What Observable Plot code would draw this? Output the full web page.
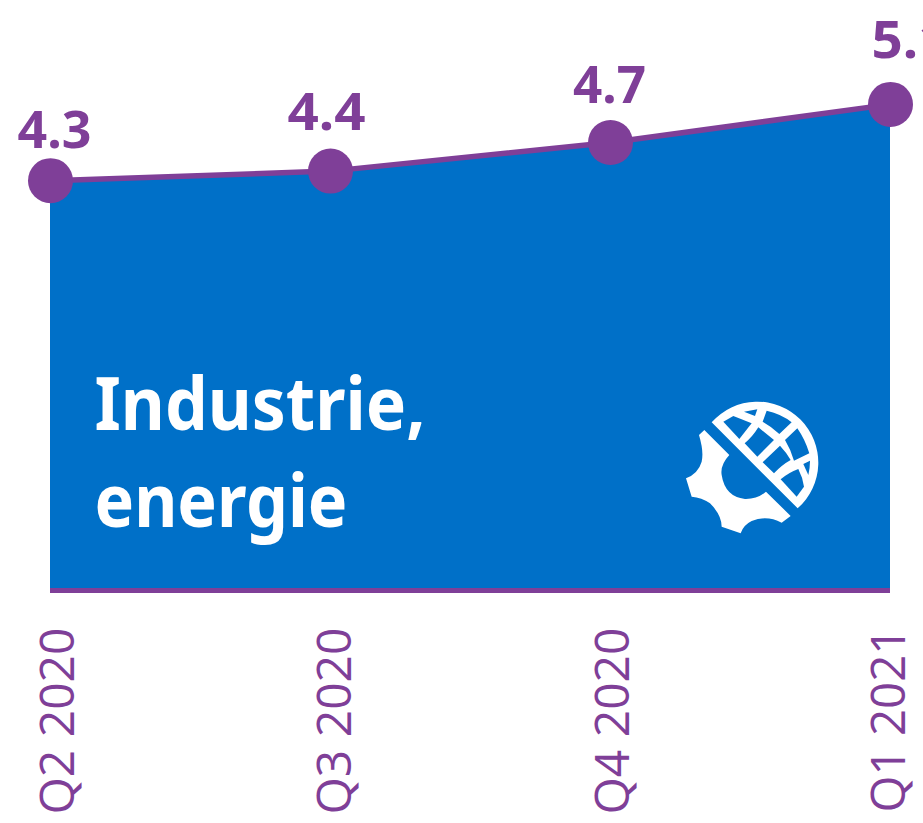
<!DOCTYPE html>
<html><head><meta charset="utf-8">
<style>html,body{margin:0;padding:0;background:#fff;overflow:hidden}svg{display:block}</style>
<script src="https://cdn.jsdelivr.net/npm/d3@7"></script>
<script src="https://cdn.jsdelivr.net/npm/@observablehq/plot@0.6"></script>
</head><body><div id="chart"></div>
<script>
const quarters = ["Q2 2020","Q3 2020","Q4 2020","Q1 2021"];
const values = [4.3,4.4,4.7,5.1];
const titleLines = ["Industrie,","energie"];
const rows = quarters.map((q,i)=>({q,v:values[i]}));
const purple="#7f3f98", blue="#0070c8";
const bold='"Noto Sans",sans-serif';
const nudge=[[4,-33],[-4,-41],[-1,-40],[20,-46]];
const tickNudge=[8,5,3,-1];
const squeeze={"Industrie,":331,"energie":253,"4.3":74,"4.4":78,"4.7":73,"5.1":78,"Q2 2020":187,"Q3 2020":187,"Q4 2020":187,"Q1 2021":185};
const iconCells=["M160 95L190 78L245 100L208 147Z","M222 65L262 58L255 78Z","M290 62Q335 72 365 97L328 132Q305 110 278 95Z","M265 112L312 150L262 200L224 160Q248 140 265 112Z","M382 115Q405 148 418 190L372 212Q362 178 345 150Z","M330 167Q350 188 362 210Q335 225 312 250L278 217Z","M385 237Q398 262 402 290L380 320L332 268Q355 248 385 237Z","M400 222L420 212Q420 235 415 255Z"];
const gear="M103 120L178 195Q150 225 155 255Q165 320 225 327Q262 328 288 305L362 378L335 398Q290 375 245 393Q220 405 212 430L155 410Q155 375 120 340Q95 322 65 320L48 265Q85 250 95 215Q102 185 87 135Z";
function icon(){
  const ns="http://www.w3.org/2000/svg";
  const g=document.createElementNS(ns,"g");
  g.setAttribute("transform","translate(670,390) scale(0.3333)");
  const add=(d,f)=>{const p=document.createElementNS(ns,"path");p.setAttribute("d",d);p.setAttribute("fill",f);g.appendChild(p);};
  add("M125 97A182.8 182.8 0 1 1 383 355Z","#fff");
  iconCells.forEach(c=>add(c,blue));
  add(gear,"#fff");
  return g;
}
const plot=Plot.plot({
  width:923,height:823,margin:0,
  x:{type:"point",domain:quarters,range:[49,891],padding:0,axis:null},
  y:{domain:[0,6.19],range:[590,0],axis:null},
  marks:[
    Plot.areaY(rows,{x:"q",y:"v",fill:blue}),
    Plot.ruleY([0],{x1:()=>quarters[0],x2:()=>quarters[3],stroke:purple,strokeWidth:5}),
    Plot.lineY(rows,{x:"q",y:"v",stroke:purple,strokeWidth:5.5}),
    Plot.dot(rows,{x:"q",y:"v",r:22.5,fill:purple}),
    ...rows.map((r,i)=>Plot.text([r],{x:"q",y:"v",text:d=>d.v.toFixed(1),dx:nudge[i][0],dy:nudge[i][1],lineAnchor:"bottom",fill:purple,fontSize:52,fontWeight:700,fontFamily:bold})),
    ...rows.map((r,i)=>Plot.text([r],{x:"q",y:()=>0,text:"q",rotate:-90,textAnchor:"end",lineAnchor:"middle",dx:tickNudge[i],dy:37,fill:purple,fontSize:48,fontWeight:400,fontFamily:'"Open Sans",sans-serif'})),
    Plot.text([titleLines[0]],{x:()=>quarters[0],y:()=>0,text:d=>d,textAnchor:"start",lineAnchor:"bottom",dx:44,dy:-161,fill:"#fff",fontSize:74,fontWeight:700,fontFamily:bold}),
    Plot.text([titleLines[1]],{x:()=>quarters[0],y:()=>0,text:d=>d,textAnchor:"start",lineAnchor:"bottom",dx:44,dy:-64,fill:"#fff",fontSize:74,fontWeight:700,fontFamily:bold}),
    icon
  ]
});
plot.querySelectorAll("text").forEach(t=>{
  const w=squeeze[t.textContent];
  if(w){t.setAttribute("textLength",w);t.setAttribute("lengthAdjust","spacingAndGlyphs");}
});
document.getElementById("chart").append(plot);
</script></body></html>
